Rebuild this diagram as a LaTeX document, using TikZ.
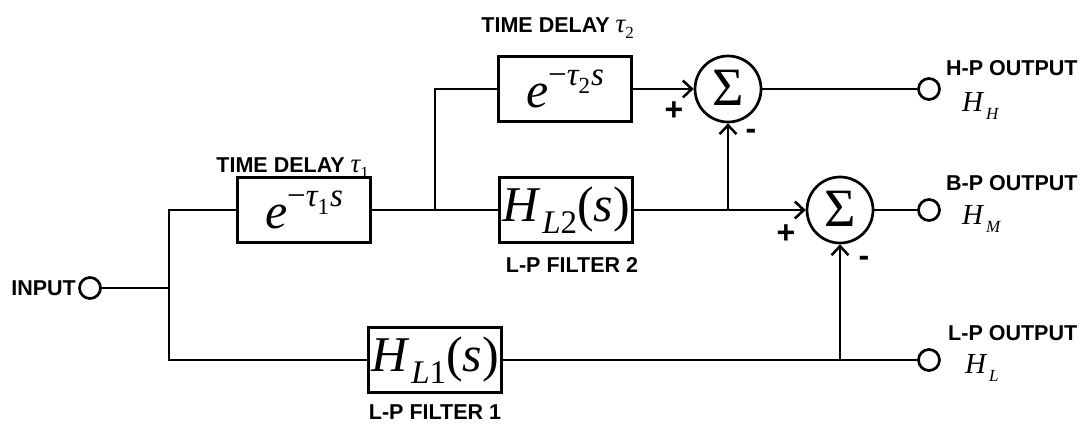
\documentclass[tikz,border=0pt]{standalone}
\usepackage{fontspec}
\newfontfamily\labfont{Liberation Sans}
\newfontfamily\tms{Liberation Serif}
\usetikzlibrary{arrows.meta}
\newcommand\fsz[1]{\fontsize{#1}{#1}\selectfont}
% big math in boxes
\newcommand\bigexp[1]{{\tms\itshape e\raisebox{22pt}{\fsz{33}\upshape −\itshape τ\raisebox{-8pt}{\fsz{23}\upshape #1}\kern1pt s}}}
\newcommand\bigH[1]{{\tms\itshape H\kern4pt\raisebox{-12pt}{\fsz{33}L\upshape #1}\upshape(\itshape s\upshape)}}
\newcommand\lbltau[1]{{\tms\mdseries\itshape\fsz{27}τ\raisebox{-6pt}{\fsz{17}\upshape #1}}}
\newcommand\outH[1]{{\tms\itshape\fsz{29}H\kern3pt\raisebox{-8pt}{\fsz{17}#1}}}
\tikzset{
  x=1pt, y=-1pt,
  wire/.style={line width=2.7pt},
  arr/.style={wire, -{Straight Barb[length=9pt,width=17pt,line width=2.5pt]}},
  blk/.style={draw, line width=2.7pt, minimum width=133pt, minimum height=65pt, inner sep=0pt,
    font=\fsz{50}},
  sumc/.style={draw, circle, line width=2.7pt, minimum size=66pt, inner sep=0pt,
    font=\tms\fsz{54}},
  port/.style={draw, circle, line width=2.7pt, minimum size=21pt, inner sep=0pt},
  lab/.style={font=\labfont\bfseries\fontsize{21.5}{24}\selectfont, inner sep=0pt},
  sgn/.style={font=\labfont\bfseries\fontsize{32}{32}\selectfont, inner sep=0pt},
  outsym/.style={inner sep=0pt, anchor=west},
}
\begin{document}
\begin{tikzpicture}
\useasboundingbox (0,0) rectangle (1083,425);
% input
\node[port] (in) at (90,288) {};
\node[lab, anchor=east] (inl) at (76,288) {INPUT};
\coordinate (ja) at (169,288);
% blocks
\node[blk] (d1) at (304,210) {\bigexp{1}};
\node[blk] (d2) at (565,89) {\bigexp{2}};
\node[blk] (hl2) at (566,210) {\bigH{2}};
\node[blk] (hl1) at (435,360) {\bigH{1}};
% summers
\node[sumc] (s1) at (728,89) {\raisebox{2pt}{Σ}};
\node[sumc] (s2) at (840,210) {\raisebox{2pt}{Σ}};
% branch points
\coordinate (b1) at (435,210);
\coordinate (b2) at (728,210);
\coordinate (b3) at (840,360);
% outputs
\node[port] (oh) at (929,89) {};
\node[port] (om) at (929,210) {};
\node[port] (ol) at (929,360) {};
% wires
\draw[wire] (in) -- (ja);
\draw[wire] (d1.west) -| (ja) |- (hl1.west);
\draw[wire] (d1.east) -- (hl2.west);
\draw[wire] (b1) |- (d2.west);
\draw[arr] (d2.east) -- (s1.west);
\draw[arr] (hl2.east) -- (s2.west);
\draw[arr] (b2) -- (s1.south);
\draw[arr] (b3) -- (s2.south);
\draw[wire] (hl1.east) -- (ol);
\draw[wire] (s1.east) -- (oh);
\draw[wire] (s2.east) -- (om);
% signs
\node[sgn] (p1) at (674,111) {+};
\node[sgn] (m1) at (751,134) {-};
\node[sgn] (p2) at (786,234) {+};
\node[sgn] (m2) at (864,261) {-};
% labels
\node[lab, anchor=base east] (t1) at (369,172) {TIME DELAY \lbltau{1}};
\node[lab, anchor=base east] (t2) at (634,33) {TIME DELAY \lbltau{2}};
\node[lab] (f2) at (572,265) {L-P FILTER 2};
\node[lab, anchor=south] (f1) at (435,420) {L-P FILTER 1};
\node[lab, anchor=west] (ho) at (946,68) {H-P OUTPUT};
\node[lab, anchor=west] (bo) at (946,183) {B-P OUTPUT};
\node[lab, anchor=west] (lo) at (948,333) {L-P OUTPUT};
\node[outsym] (hh) at (962,106) {\outH{H}};
\node[outsym] (hm) at (962,219) {\outH{M}};
\node[outsym] (hlo) at (965,368) {\outH{L}};
\end{tikzpicture}
\end{document}
